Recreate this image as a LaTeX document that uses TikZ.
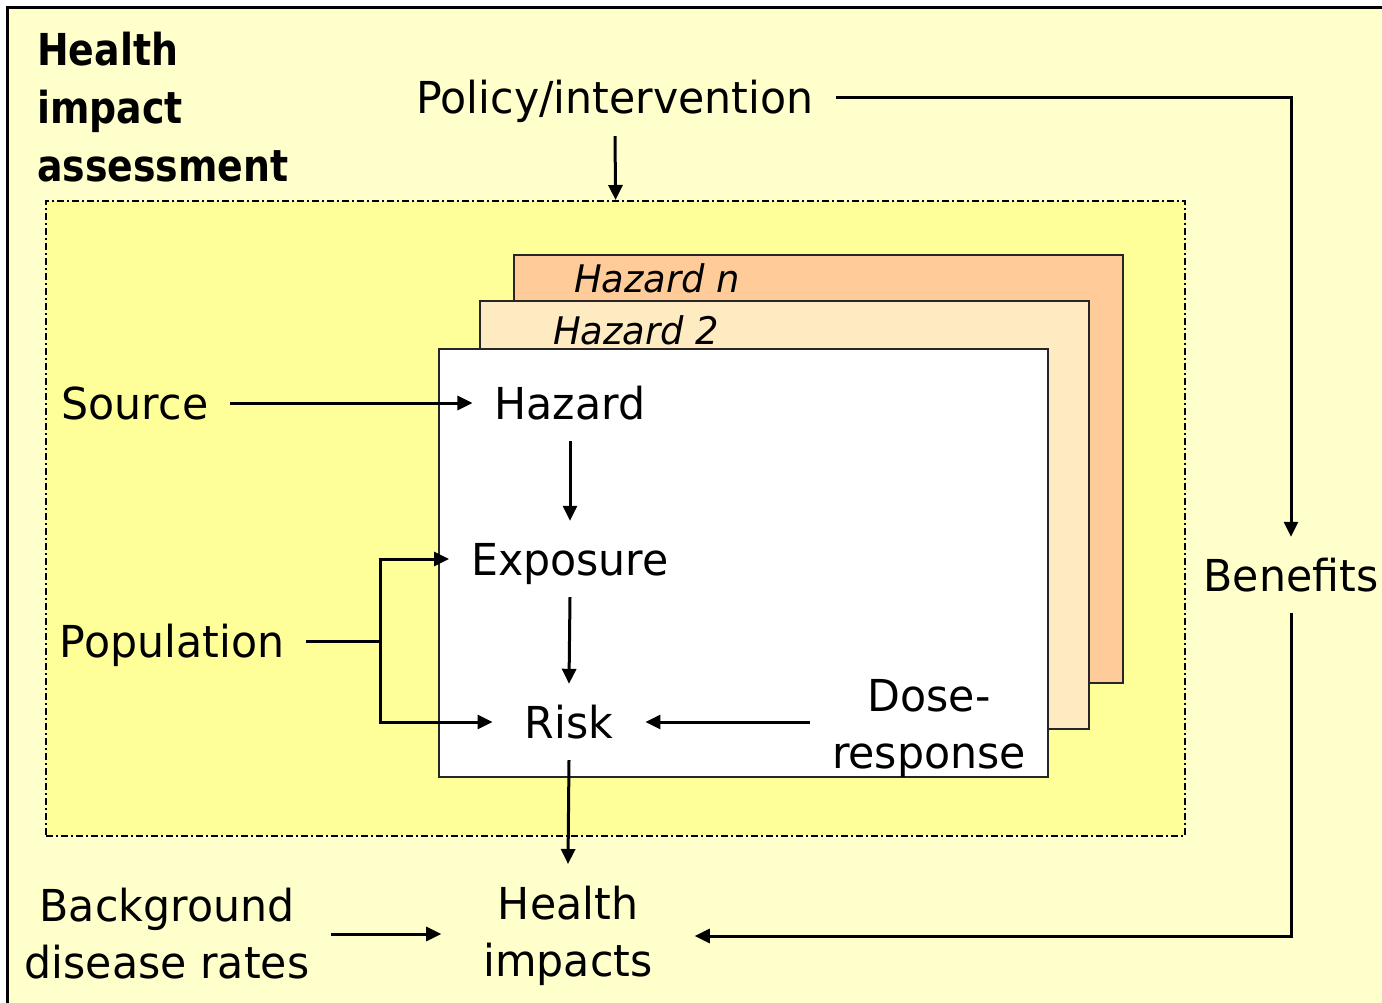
\documentclass[tikz,border=0pt]{standalone}
\usepackage{fontspec}
\setmainfont{DejaVu Sans}[FakeStretch=0.97]
\newfontfamily\titlefont{DejaVu Sans}[FakeStretch=0.86]
\usetikzlibrary{arrows.meta}
\definecolor{bgyellow}{HTML}{FFFFCC}
\definecolor{inyellow}{HTML}{FFFF99}
\definecolor{peach}{HTML}{FFCC99}
\definecolor{cream}{HTML}{FFEBC2}
\newcommand{\lblfont}{\fontsize{44}{57}\selectfont}
\begin{document}
\begin{tikzpicture}[x=1pt,y=-1pt,
  lbl/.style={font=\lblfont, inner sep=22pt, text height=32pt, text depth=0pt},
  multi/.style={font=\lblfont, inner sep=22pt, align=center},
  hazlbl/.style={font=\fontsize{38}{46}\selectfont\itshape, inner sep=0pt},
  card/.style={draw=black!85, line width=2pt, inner sep=0pt, anchor=north west,
    minimum width=609pt, minimum height=428pt},
  arr/.style={line width=3pt, -{Triangle[length=15pt,width=14pt]}},
  plainline/.style={line width=3pt}]
\useasboundingbox (0,0) rectangle (1382,1003);
\clip (0,0) rectangle (1382,1003);
\fill[white] (0,0) rectangle (1382,1003);
\draw[line width=3pt, fill=bgyellow] (7.5,7.5) rectangle (1430,1040);
% scope box
\node[draw, line width=2.2pt, dash pattern=on 7pt off 3pt on 2pt off 3pt, fill=inyellow,
  anchor=north west, inner sep=0pt, minimum width=1139pt, minimum height=635pt] (scope) at (45,200) {};
% hazard cards
\node[card, fill=peach] (boxn) at (513,254) {};
\node[card, fill=cream] (box2) at (479,300) {};
\node[card, fill=white] (box1) at (438,348) {};
\node[hazlbl] (hazn) at (657,278) {Hazard n};
\node[hazlbl] (haz2) at (636,330) {Hazard 2};
% title
\node[font=\titlefont\bfseries\fontsize{44}{58}\selectfont, align=left, inner sep=0pt, anchor=north west] (title) at (37,32) {Health\\impact\\assessment};
% labels
\node[lbl] (policy) at (615,98) {Policy/intervention};
\node[lbl] (source) at (135,403) {Source};
\node[lbl] (hazard) at (570,403) {Hazard};
\node[lbl] (exposure) at (570,559) {Exposure};
\node[lbl] (population) at (172,641) {Population};
\node[lbl, inner xsep=32pt] (risk) at (569,722) {Risk};
\node[lbl] (benefits) at (1291,575) {Benefits};
\node[multi] (dose) at (929,729) {Dose-\\response};
\node[multi, inner xsep=42pt] (himpacts) at (568,936) {Health\\impacts};
\node[multi] (background) at (167,934) {Background\\disease rates};
\coordinate (fork) at (380,641);
% connectors
\draw[arr] (policy.south) -- (scope.north);
\draw[arr] (policy.east) -| (benefits.north);
\draw[arr] (benefits.south) |- (himpacts.east);
\draw[arr] (source.east) -- (hazard.west);
\draw[arr] (hazard.south) -- (exposure.north);
\draw[arr] (exposure.south) -- (risk.north);
\draw[plainline] (population.east) -- (fork);
\draw[arr] (fork) |- (exposure.west);
\draw[arr] (fork) |- (risk.west);
\draw[arr] (dose.west |- risk.east) -- (risk.east);
\draw[arr] (risk.south) -- (himpacts.north);
\draw[arr] (background.east) -- (background.east -| himpacts.west);
\end{tikzpicture}
\end{document}
